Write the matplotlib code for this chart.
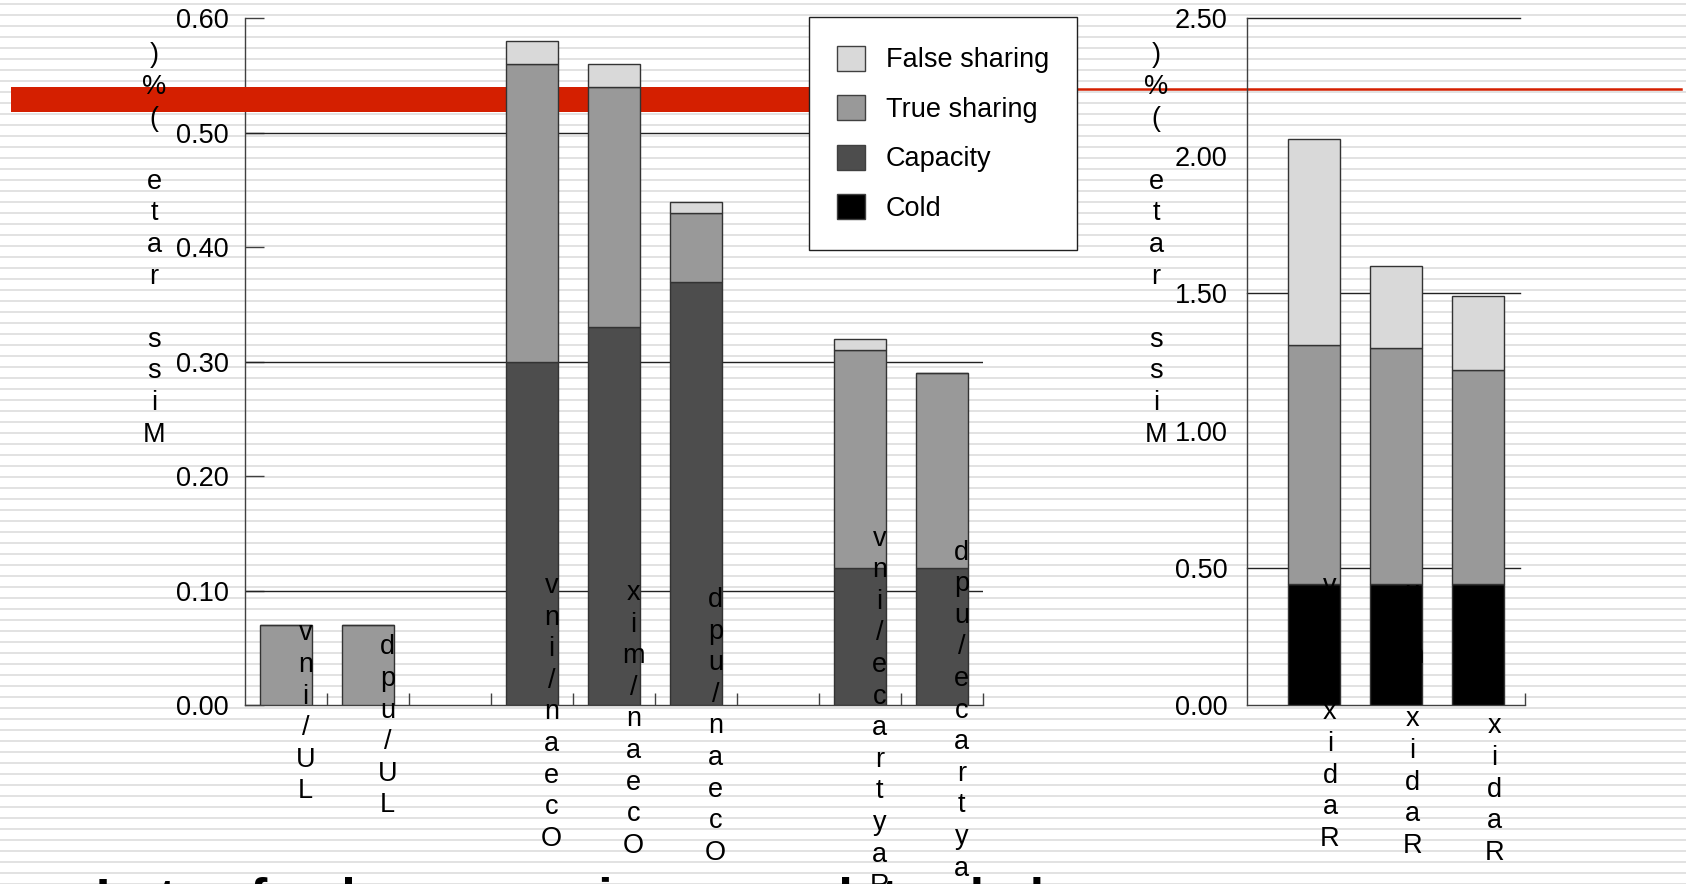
import numpy as np
import matplotlib
matplotlib.use('Agg')
import matplotlib.pyplot as plt
import matplotlib.transforms as mtransforms
from matplotlib.patches import Patch, Rectangle
from matplotlib.lines import Line2D

plt.rcParams['font.family'] = ['Liberation Sans', 'DejaVu Sans']

# data (miss rate in %)
series = ["Cold", "Capacity", "True sharing", "False sharing"]
colors = {"Cold": "#000000", "Capacity": "#4d4d4d",
          "True sharing": "#999999", "False sharing": "#d9d9d9"}

left_labels = ["LU/inv", "LU/upd", "Ocean/inv", "Ocean/mix", "Ocean/upd",
               "Raytrace/inv", "Raytrace/upd"]
left_cold = [0.0, 0.0, 0.0, 0.0, 0.0, 0.0, 0.0]
left_capacity = [0.0, 0.0, 0.30, 0.33, 0.37, 0.12, 0.12]
left_true = [0.07, 0.07, 0.26, 0.21, 0.06, 0.19, 0.17]
left_false = [0.0, 0.0, 0.02, 0.02, 0.01, 0.01, 0.0]

right_labels = ["Radix/inv", "Radix/mix", "Radix/upd"]
right_cold = [0.44, 0.44, 0.44]
right_capacity = [0.0, 0.0, 0.0]
right_true = [0.87, 0.86, 0.78]
right_false = [0.75, 0.30, 0.27]

y_title = "Miss rate (%)"
bottom_text = "Lots of coherence misses: updates help"

W, H = 1686, 884
FS = 19.5
LS = 1.28


def px_rect(x0, x1, ytop, ybot):
    return [x0 / W, 1 - ybot / H, (x1 - x0) / W, (ybot - ytop) / H]


def slot_positions(labels):
    # one empty slot between benchmark groups
    pos, x, prev = [], 0, None
    for lab in labels:
        grp = lab.split('/')[0]
        if prev is not None and grp != prev:
            x += 1
        pos.append(x)
        x += 1
        prev = grp
    return np.array(pos)


def vertical(s):
    # the slide shows the labels reversed, one character per line
    return "\n".join(reversed(s))


def stacked(ax, labels, layers, dx):
    x = slot_positions(labels)
    bottom = np.zeros(len(x))
    for name, vals in zip(series, layers):
        vals = np.array(vals)
        ax.bar(x, vals, width=0.63, bottom=bottom, color=colors[name],
               edgecolor='#333333', linewidth=1, zorder=3)
        bottom += vals
    shift = {'inv': 7, 'mix': 14, 'upd': 21}
    for xi, lab in zip(x, labels):
        tr = ax.get_xaxis_transform() + mtransforms.ScaledTranslation(
            dx / 100, -shift[lab.split('/')[1]] / 100, fig.dpi_scale_trans)
        ax.text(xi, 0, vertical(lab), transform=tr, ha='center', va='center',
                fontsize=FS, linespacing=LS, zorder=4, clip_on=False)


def style(ax):
    ax.set_facecolor('none')
    ax.spines[['top', 'right']].set_visible(False)
    for s in ['left', 'bottom']:
        ax.spines[s].set_color('#404040')
        ax.spines[s].set_linewidth(1)


fig = plt.figure(figsize=(W / 100, H / 100), dpi=100)
fig.patch.set_facecolor('white')

# striped slide background
bg = fig.add_axes([0, 0, 1, 1], zorder=-10)
bg.set_xlim(0, 1)
bg.set_ylim(H, 0)
bg.axis('off')
for y in np.arange(2.5, H, 11):
    bg.axhspan(y, y + 2.6, color='#e2e2e2', lw=0)

# left chart
ax1 = fig.add_axes(px_rect(245, 983, 18.3, 705.4))
style(ax1)
ax1.set_xlim(-0.5, 8.5)
ax1.set_ylim(0, 0.6)
for g in [0.1, 0.3, 0.5]:
    ax1.axhline(g, color='#222222', lw=1, zorder=2)
stacked(ax1, left_labels, [left_cold, left_capacity, left_true, left_false], 19.4)
yt = np.arange(0, 0.61, 0.1)
ax1.set_yticks(yt)
ax1.set_yticklabels([f'{v:.2f}' for v in yt])
ax1.tick_params(axis='y', direction='in', length=14, width=1, color='#404040',
                pad=11.5, labelsize=FS)
ax1.set_xticks(np.arange(0.5, 9, 1))
ax1.tick_params(axis='x', direction='in', length=8.5, width=1, color='#404040',
                labelbottom=False)

# red bar of the slide template
ax1.add_artist(Rectangle((10.75 / W, 1 - 111.5 / H), (880 - 10.75) / W, 24 / H,
                         transform=fig.transFigure, facecolor='#d41f00',
                         edgecolor='none', zorder=2.6, clip_on=False))
ax1.add_artist(Line2D([880 / W, 1681 / W], [1 - 88.5 / H] * 2,
                      transform=fig.transFigure, color='#d41f00', lw=1.8,
                      zorder=2.6, clip_on=False))

handles = [Patch(facecolor=colors[n], edgecolor='#404040', lw=1, label=n)
           for n in reversed(series)]
leg = ax1.legend(handles=handles, loc='upper left',
                 bbox_to_anchor=(808.6 / W, 1 - 17.2 / H),
                 bbox_transform=fig.transFigure, borderaxespad=0, fontsize=FS,
                 frameon=True, fancybox=False, framealpha=1, edgecolor='#202020',
                 borderpad=1.05, handlelength=1.05, handleheight=1.05,
                 handletextpad=0.75, labelspacing=0.8)
leg.get_frame().set_linewidth(1)

# right chart
ax2 = fig.add_axes(px_rect(1247, 1525, 18.3, 705.4))
style(ax2)
ax2.set_xlim(-0.815, 2.567)
ax2.set_ylim(0, 2.5)
for g in [0.5, 1.5, 2.5]:
    ax2.axhline(g, xmax=0.982, color='#222222', lw=1, zorder=2, clip_on=False)
stacked(ax2, right_labels, [right_cold, right_capacity, right_true, right_false], 16)
yt2 = np.arange(0, 2.51, 0.5)
ax2.set_yticks(yt2)
ax2.set_yticklabels([f'{v:.2f}' for v in yt2])
ax2.tick_params(axis='y', length=0, pad=14, labelsize=FS)
ax2.set_xticks([2.567])
ax2.tick_params(axis='x', direction='in', length=8.5, width=1, color='#404040',
                labelbottom=False)

# axis titles, written top to bottom like the slide
fig.text(154 / W, 1 - 245 / H, vertical(y_title), ha='center', va='center',
         fontsize=FS, linespacing=LS)
fig.text(1156 / W, 1 - 245 / H, vertical(y_title), ha='center', va='center',
         fontsize=FS, linespacing=LS)

# slide bullet cut off at the bottom edge
fig.text(96 / W, 1 - 877 / H, bottom_text, fontsize=37, fontweight='bold',
         ha='left', va='top')

fig.savefig('out.png', dpi=100, facecolor='white')
